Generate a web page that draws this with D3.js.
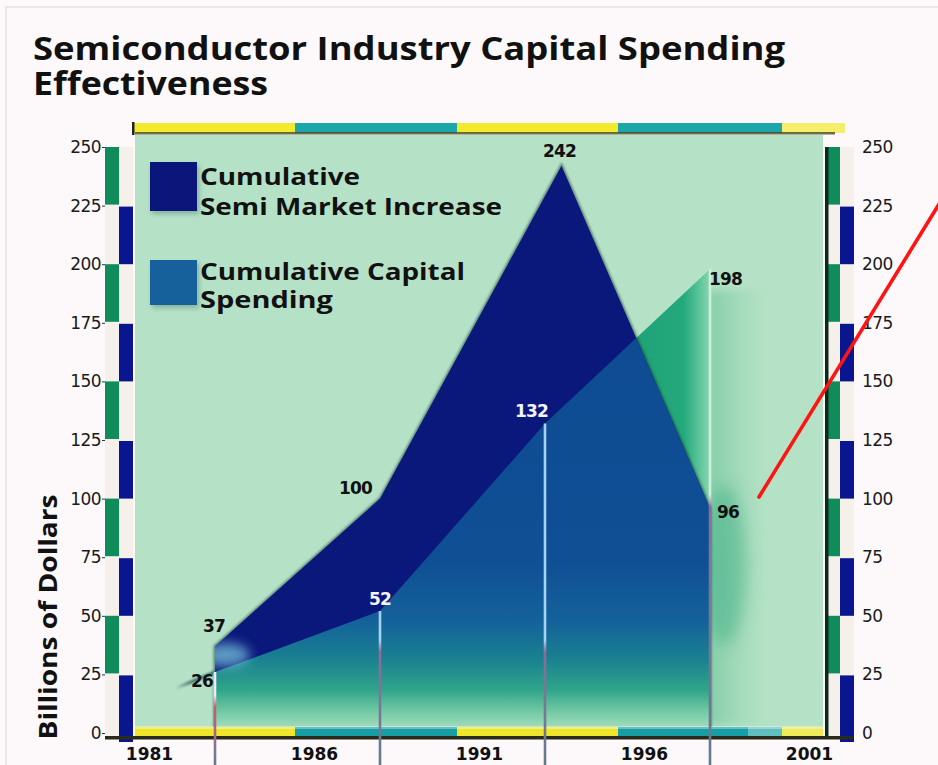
<!DOCTYPE html>
<html><head><meta charset="utf-8">
<script src="https://cdn.jsdelivr.net/npm/d3@7"></script>
<style>
html,body{margin:0;padding:0;background:#fdf9fb;}
svg{display:block;}
</style></head><body>
<script>
// ---- data ----
const years = [1983, 1988, 1993, 1998];
const capitalSpending = [26, 52, 132, 198];
const marketYears = [1983, 1988, 1993.5, 1998];
const marketIncrease = [37, 100, 242, 96];
const tailYears = [1981.8, 1983];
const tailValues = [19, 26];
const yTicks = [0, 25, 50, 75, 100, 125, 150, 175, 200, 225, 250];
const xTicks = [1981, 1986, 1991, 1996, 2001];
const legendLabels = [["Cumulative", "Semi Market Increase"], ["Cumulative Capital", "Spending"]];
const titleLines = ["Semiconductor Industry Capital Spending", "Effectiveness"];
const yTitle = "Billions of Dollars";

// ---- layout ----
const W = 938, H = 765;
const plot = {l: 135, r: 823, t: 135, b: 737};
const svg = d3.select("body").append("svg").attr("width", W).attr("height", H);
const defs = svg.append("defs");

const x = d3.scaleLinear().domain([1983, 1998]).range([215, 710]);
const y = d3.scaleLinear().domain([0, 250]).range([733, 147]);

const capital = years.map((yr, i) => ({year: yr, v: capitalSpending[i]}));
const market = marketYears.map((yr, i) => ({year: yr, v: marketIncrease[i]}));

// ---- gradients & filters ----
function linGrad(id, attrs, stops) {
  const g = defs.append("linearGradient").attr("id", id).attr("gradientUnits", "userSpaceOnUse");
  Object.entries(attrs).forEach(([k, v]) => g.attr(k, v));
  stops.forEach(s => g.append("stop").attr("offset", s[0]).attr("stop-color", s[1]).attr("stop-opacity", s[2] == null ? 1 : s[2]));
}
function blur(id, sd) {
  defs.append("filter").attr("id", id).attr("x", "-50%").attr("y", "-50%").attr("width", "200%").attr("height", "200%")
    .append("feGaussianBlur").attr("stdDeviation", sd);
}
blur("b1", 1.2); blur("b2", 2.5); blur("b4", 4); blur("b6", 6); blur("b8", 8);

const gy0 = 270, gy1 = 733, off = v => (v - gy0) / (gy1 - gy0);
linGrad("capBlue", {x1: 0, x2: 0, y1: gy0, y2: gy1}, [
  [0, "#0e4a92"], [off(560), "#0f4f94"], [off(622), "#14629a"], [off(660), "#1a8290"],
  [off(690), "#30a58a"], [off(712), "#74caa4"], [1, "#b2e1c6"]]);
linGrad("capGreen", {x1: 637, x2: 712, y1: 0, y2: 0}, [
  [0, "#1ea276"], [0.62, "#24a97c"], [0.82, "#58c398"], [1, "#94d8b4"]]);
linGrad("glowR", {x1: 710, x2: 780, y1: 0, y2: 0}, [
  [0, "#5cbd90", 0.55], [0.5, "#7ccaa2", 0.25], [1, "#b5e2c6", 0]]);
linGrad("tailG", {x1: x(tailYears[0]), x2: x(tailYears[1]), y1: 0, y2: 0}, [
  [0, "#23505a", 0], [0.4, "#23505a", 0.8], [1, "#1d5a70", 0.9]]);

const lineSplit = [695, 640, 640, 495];
const lineTop = ["#e8eef4", "#a6d2f2", "#a6d2f2", "#cdeedd"];
years.forEach((yr, i) => {
  const t = y(capitalSpending[i]), s = lineSplit[i];
  const o = v => Math.max(0, Math.min(1, (v - t) / (H - t)));
  linGrad("vl" + i, {x1: 0, x2: 0, y1: t, y2: H}, [
    [0, lineTop[i]], [o(s), lineTop[i]], [o(s + 12), i === 0 ? "#c85c72" : "#8e6a98"],
    [o(s + 60), "#7a7898"], [1, "#66788e"]]);
});

// ---- page frame ----
svg.append("rect").attr("width", W).attr("height", H).attr("fill", "#fdf9fb");
svg.append("path").attr("d", "M6,765V7H938").attr("fill", "none").attr("stroke", "#e4dfe3").attr("stroke-width", 1.5);

// ---- title ----
titleLines.forEach((t, i) => {
  svg.append("text").attr("x", 33).attr("y", [60, 95][i])
    .attr("font-family", "'Open Sans', sans-serif").attr("font-weight", 700).attr("font-size", 32)
    .attr("fill", "#111").attr("textLength", [752, 235][i]).attr("lengthAdjust", "spacingAndGlyphs")
    .text(t);
});

// ---- plot background ----
svg.append("rect").attr("x", plot.l).attr("y", plot.t).attr("width", plot.r - plot.l).attr("height", plot.b - plot.t)
  .attr("fill", "#b5e2c6");

// ---- rulers (alternating segments) ----
const segs = d3.pairs(yTicks).map(([a, b], i) => ({a, b, i}));
function ruler(xg, xb, w) {
  const g = svg.append("g");
  g.append("rect").attr("x", xg).attr("y", y(250)).attr("width", 2 * w).attr("height", y(0) - y(250) + 6).attr("fill", "#f5f1ea");
  g.selectAll("rect.s").data(segs).join("rect").attr("class", "s")
    .attr("x", d => (d.i % 2 === 0) ? xb : xg)
    .attr("y", d => y(d.b) + ((d.i % 2 === 0) ? 1 : 0))
    .attr("width", w).attr("height", d => y(d.a) - y(d.b) + (d.i === 0 ? 8 : -1))
    .attr("fill", d => (d.i % 2 === 0) ? "#0a1690" : "#0f8c5a");
  return g;
}
ruler(105, 119, 14);
ruler(826, 840, 14);
svg.append("rect").attr("x", 825).attr("y", y(250)).attr("width", 3.5).attr("height", y(0) - y(250) + 6).attr("fill", "#0c2a1c");

// ---- decorative bands top and bottom ----
const topBands = [[133, 295, "#f2ea2c"], [295, 457, "#1aa6aa"], [457, 618, "#f2ea2c"], [618, 782, "#1aa6aa"], [782, 845, "#f4ee6a"]];
svg.selectAll("rect.tb").data(topBands).join("rect").attr("class", "tb")
  .attr("x", d => d[0]).attr("y", 123).attr("width", d => d[1] - d[0]).attr("height", 10).attr("fill", d => d[2]);
svg.append("rect").attr("x", 135).attr("y", 132).attr("width", 700).attr("height", 2.5).attr("fill", "#4a4a22").attr("opacity", 0.8);
svg.append("rect").attr("x", 132).attr("y", 122).attr("width", 2.5).attr("height", 13).attr("fill", "#222");

// ---- cumulative capital spending (area not covered by the market area) ----
const capArea = d3.area().x(d => x(d.year)).y0(y(0)).y1(d => y(d.v));
const mktArea = d3.area().x(d => x(d.year)).y0(y(0)).y1(d => y(d.v));

defs.append("clipPath").attr("id", "capClip").append("path").attr("d", capArea(capital));
defs.append("clipPath").attr("id", "mktClip").append("path").attr("d", mktArea(market));

// soft glow right of the last year
svg.append("rect").attr("x", 708).attr("y", 290).attr("width", 70).attr("height", 435)
  .attr("fill", "url(#glowR)").attr("filter", "url(#b4)");
svg.append("ellipse").attr("cx", 724).attr("cy", 565).attr("rx", 22).attr("ry", 80)
  .attr("fill", "#3cae82").attr("opacity", 0.5).attr("filter", "url(#b8)");

svg.append("path").attr("d", capArea(capital)).attr("fill", "url(#capGreen)");

// ---- cumulative semi market increase ----
svg.append("path").attr("d", mktArea(market)).attr("fill", "none")
  .attr("stroke", "#163a32").attr("stroke-width", 3).attr("opacity", 0.55).attr("filter", "url(#b1)");
svg.append("path").attr("d", mktArea(market)).attr("fill", "#0a177b");

// capital spending beneath the market area
svg.append("g").attr("clip-path", "url(#capClip)")
  .append("path").attr("d", mktArea(market)).attr("fill", "url(#capBlue)");

// light glow at the start of the market area
svg.append("g").attr("clip-path", "url(#mktClip)")
  .append("ellipse").attr("cx", 226).attr("cy", 655).attr("rx", 24).attr("ry", 12)
  .attr("fill", "#72b9d6").attr("opacity", 0.8).attr("filter", "url(#b6)");

// faint tail leading into the first capital point
svg.append("path").attr("d", d3.line().x((d, i) => x(tailYears[i])).y(d => y(d))(tailValues))
  .attr("stroke", "url(#tailG)").attr("stroke-width", 3).attr("fill", "none").attr("filter", "url(#b1)");

// bottom band drawn over the area fade
const botBands = [[135, 295, "#efe52a"], [295, 457, "#179ea4"], [457, 618, "#efe52a"], [618, 748, "#179ea4"], [748, 782, "#5fbfbf"], [782, 823, "#f0ea5a"]];
svg.selectAll("rect.bb").data(botBands).join("rect").attr("class", "bb")
  .attr("x", d => d[0]).attr("y", 727).attr("width", d => d[1] - d[0]).attr("height", 10).attr("fill", d => d[2]);
svg.append("rect").attr("x", 135).attr("y", 726).attr("width", 688).attr("height", 3).attr("fill", "#fff").attr("opacity", 0.35);
svg.append("rect").attr("x", 105).attr("y", 736).attr("width", 748).attr("height", 3.5).attr("fill", "#2a2a1a");

// ---- vertical drop lines at capital points ----
svg.selectAll("line.drop").data(capital).join("line").attr("class", "drop")
  .attr("x1", d => x(d.year)).attr("x2", d => x(d.year) + 0.01)
  .attr("y1", d => y(d.v)).attr("y2", H)
  .attr("stroke", (d, i) => `url(#vl${i})`).attr("stroke-width", 2.6);

// ---- axes ----
const tickFont = "'DejaVu Sans', sans-serif";
const gl = svg.append("g").attr("transform", "translate(105,0)")
  .call(d3.axisLeft(y).tickValues(yTicks).tickSize(3).tickPadding(1));
const gr = svg.append("g").attr("transform", "translate(853,0)")
  .call(d3.axisRight(y).tickValues(yTicks).tickSize(0).tickPadding(9));
const gx = svg.append("g").attr("transform", `translate(0,${plot.b})`)
  .call(d3.axisBottom(x).tickValues(xTicks).tickFormat(d3.format("d")).tickSize(0).tickPadding(11));
[gl, gr, gx].forEach(g => {
  g.select(".domain").remove();
  g.selectAll("text").attr("font-family", tickFont).attr("font-size", 17).attr("fill", "#1a1a1a");
  g.selectAll("line").attr("stroke", "#333");
});
gx.selectAll("text").attr("font-weight", "bold").attr("font-size", 17).attr("fill", "#111");
gl.selectAll("text").attr("letter-spacing", -0.6);
gr.selectAll("text").attr("letter-spacing", -0.6);

svg.append("text").attr("transform", "translate(57,617) rotate(-90)").attr("text-anchor", "middle")
  .attr("font-family", "'Open Sans', sans-serif").attr("font-weight", 700).attr("font-size", 25)
  .attr("fill", "#111").attr("textLength", 245).attr("lengthAdjust", "spacingAndGlyphs").text(yTitle);

// ---- legend ----
const legColors = ["#0b167a", "#16609c"];
const legBox = [[150, 162, 47, 49], [150, 260, 47, 45]];
const legText = [[[185, 160], [215, 302]], [[280, 265], [308, 133]]];
legendLabels.forEach((lines, i) => {
  const b = legBox[i];
  svg.append("rect").attr("x", b[0] + 2).attr("y", b[1] + 3).attr("width", b[2]).attr("height", b[3])
    .attr("fill", "#2a5a50").attr("opacity", 0.35).attr("filter", "url(#b2)");
  svg.append("rect").attr("x", b[0]).attr("y", b[1]).attr("width", b[2]).attr("height", b[3]).attr("fill", legColors[i]);
  lines.forEach((t, j) => {
    svg.append("text").attr("x", 200).attr("y", legText[i][j][0])
      .attr("font-family", "'Open Sans', sans-serif").attr("font-weight", 700).attr("font-size", 23)
      .attr("fill", "#111").attr("textLength", legText[i][j][1]).attr("lengthAdjust", "spacingAndGlyphs").text(t);
  });
});

// ---- value labels ----
const lblFont = {"font-family": "'DejaVu Sans', sans-serif", "font-weight": "bold", "font-size": 17};
function label(px, py, txt, anchor, color) {
  const t = svg.append("text").attr("x", px).attr("y", py).attr("text-anchor", anchor).attr("fill", color).text(txt)
    .attr("letter-spacing", -0.8);
  Object.entries(lblFont).forEach(([k, v]) => t.attr(k, v));
  return t;
}
const capLbl = [[-2, 15, "end", "#111"], [0, -6, "middle", "#f4f4ff"], [3, -7, "end", "#f4f4ff"], [-1, 16, "start", "#111"]];
capital.forEach((d, i) => {
  const c = capLbl[i];
  label(x(d.year) + c[0], y(d.v) + c[1], d.v, c[2], c[3]);
});
const mktLbl = [[-1, -14, "middle", "#111"], [-8, -5, "end", "#111"], [-2, -9, "middle", "#111"], [7, 10, "start", "#111"]];
market.forEach((d, i) => {
  const c = mktLbl[i];
  label(x(d.year) + c[0], y(d.v) + c[1], d.v, c[2], c[3]);
});

// ---- red annotation stroke ----
svg.append("line").attr("x1", 759).attr("y1", 497).attr("x2", 944).attr("y2", 196)
  .attr("stroke", "#ff1414").attr("stroke-width", 3.6).attr("stroke-linecap", "round");
</script>
</body></html>
